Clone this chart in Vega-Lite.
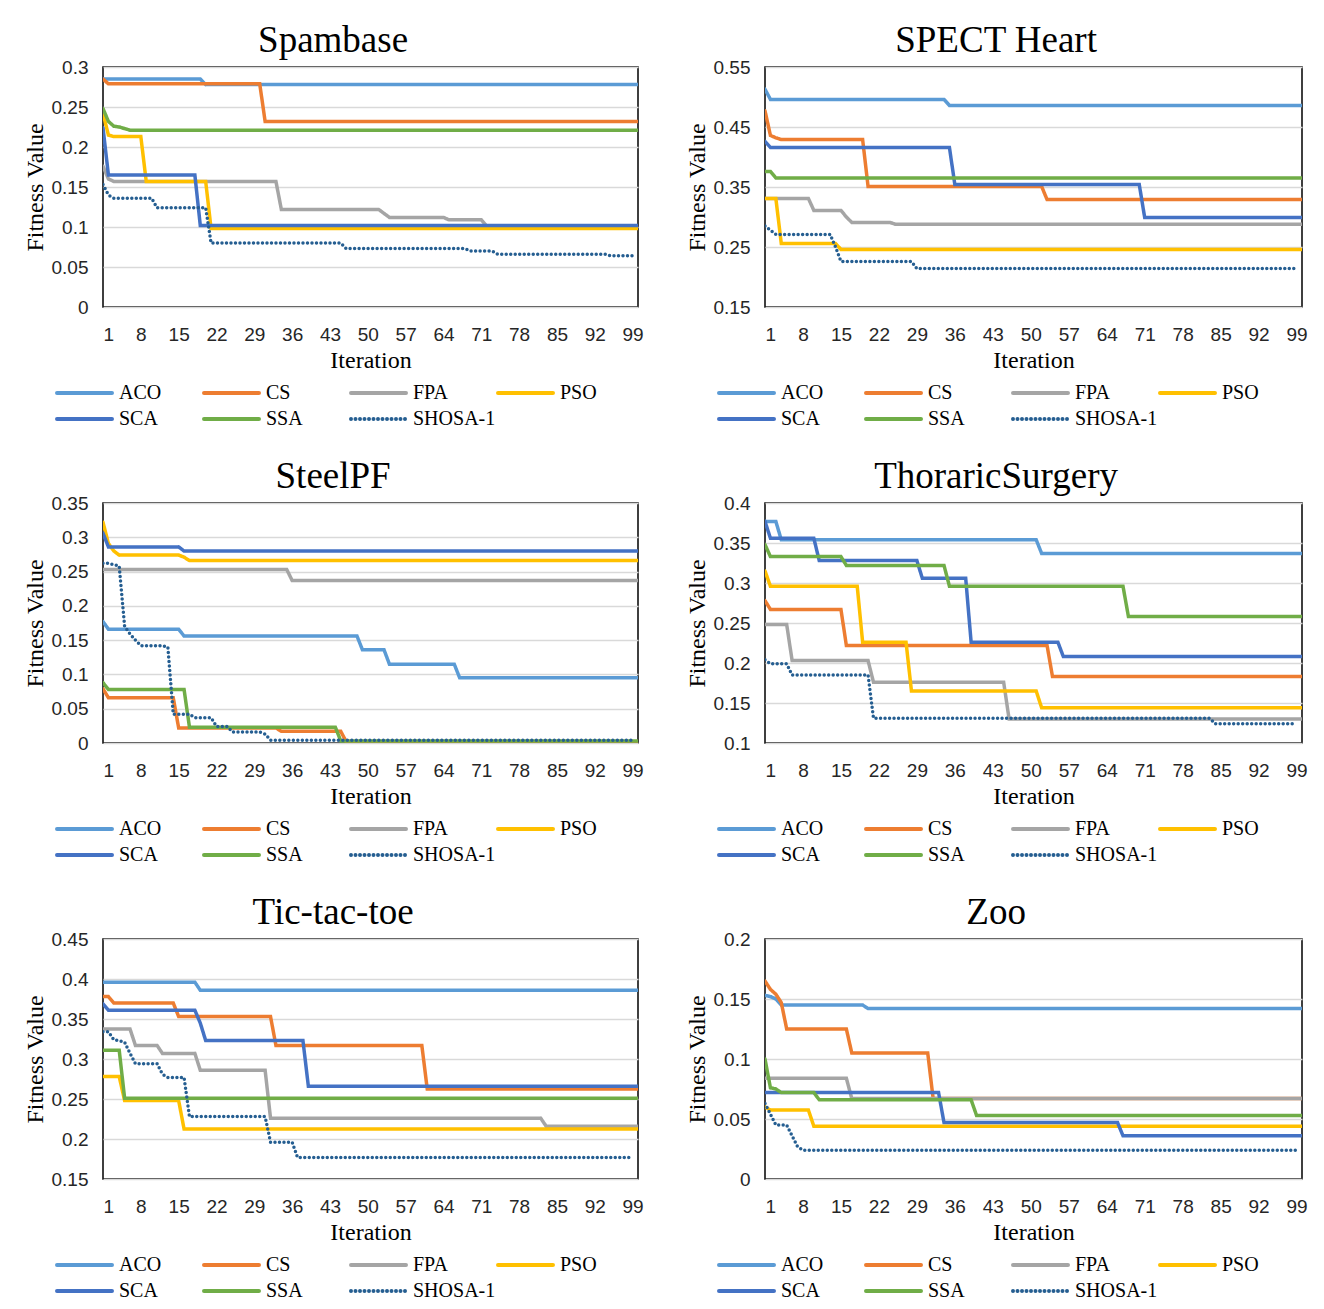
{
"$schema": "https://vega.github.io/schema/vega-lite/v6.json",
"background": "white",
"padding": {"left": 22, "top": 21, "right": 5, "bottom": 5},
"columns": 2,
"spacing": {"row": 196, "column": 127},
"bounds": "flush",
"resolve": {"scale": {"color": "independent", "strokeDash": "independent", "y": "independent", "x": "independent"}},
"datasets": {
"spam": [
{"s":"ACO","i":1,"v":0.285},{"s":"ACO","i":19,"v":0.285},{"s":"ACO","i":20,"v":0.278},{"s":"ACO","i":100,"v":0.278},
{"s":"CS","i":1,"v":0.285},{"s":"CS","i":2,"v":0.279},{"s":"CS","i":30,"v":0.279},{"s":"CS","i":31,"v":0.232},{"s":"CS","i":100,"v":0.232},
{"s":"FPA","i":1,"v":0.176},{"s":"FPA","i":2,"v":0.160},{"s":"FPA","i":3,"v":0.157},{"s":"FPA","i":33,"v":0.157},{"s":"FPA","i":34,"v":0.122},{"s":"FPA","i":52,"v":0.122},{"s":"FPA","i":53,"v":0.117},{"s":"FPA","i":54,"v":0.112},{"s":"FPA","i":64,"v":0.112},{"s":"FPA","i":65,"v":0.109},{"s":"FPA","i":71,"v":0.109},{"s":"FPA","i":72,"v":0.101},{"s":"FPA","i":100,"v":0.101},
{"s":"PSO","i":1,"v":0.242},{"s":"PSO","i":2,"v":0.215},{"s":"PSO","i":3,"v":0.213},{"s":"PSO","i":8,"v":0.213},{"s":"PSO","i":9,"v":0.157},{"s":"PSO","i":20,"v":0.157},{"s":"PSO","i":21,"v":0.098},{"s":"PSO","i":100,"v":0.098},
{"s":"SCA","i":1,"v":0.224},{"s":"SCA","i":2,"v":0.165},{"s":"SCA","i":18,"v":0.165},{"s":"SCA","i":19,"v":0.102},{"s":"SCA","i":100,"v":0.102},
{"s":"SSA","i":1,"v":0.248},{"s":"SSA","i":2,"v":0.232},{"s":"SSA","i":3,"v":0.226},{"s":"SSA","i":4,"v":0.225},{"s":"SSA","i":5,"v":0.223},{"s":"SSA","i":6,"v":0.221},{"s":"SSA","i":100,"v":0.221},
{"s":"SHOSA-1","i":1,"v":0.153},{"s":"SHOSA-1","i":2,"v":0.140},{"s":"SHOSA-1","i":3,"v":0.136},{"s":"SHOSA-1","i":10,"v":0.136},{"s":"SHOSA-1","i":11,"v":0.124},{"s":"SHOSA-1","i":20,"v":0.124},{"s":"SHOSA-1","i":21,"v":0.080},{"s":"SHOSA-1","i":45,"v":0.080},{"s":"SHOSA-1","i":46,"v":0.073},{"s":"SHOSA-1","i":68,"v":0.073},{"s":"SHOSA-1","i":69,"v":0.070},{"s":"SHOSA-1","i":73,"v":0.070},{"s":"SHOSA-1","i":74,"v":0.066},{"s":"SHOSA-1","i":94,"v":0.066},{"s":"SHOSA-1","i":95,"v":0.064},{"s":"SHOSA-1","i":99,"v":0.064}
],
"spect": [
{"s":"ACO","i":1,"v":0.513},{"s":"ACO","i":2,"v":0.496},{"s":"ACO","i":34,"v":0.496},{"s":"ACO","i":35,"v":0.486},{"s":"ACO","i":100,"v":0.486},
{"s":"CS","i":1,"v":0.477},{"s":"CS","i":2,"v":0.436},{"s":"CS","i":3,"v":0.432},{"s":"CS","i":4,"v":0.429},{"s":"CS","i":19,"v":0.429},{"s":"CS","i":20,"v":0.351},{"s":"CS","i":52,"v":0.351},{"s":"CS","i":53,"v":0.329},{"s":"CS","i":100,"v":0.329},
{"s":"FPA","i":1,"v":0.331},{"s":"FPA","i":9,"v":0.331},{"s":"FPA","i":10,"v":0.311},{"s":"FPA","i":15,"v":0.311},{"s":"FPA","i":16,"v":0.300},{"s":"FPA","i":17,"v":0.291},{"s":"FPA","i":24,"v":0.291},{"s":"FPA","i":25,"v":0.288},{"s":"FPA","i":100,"v":0.288},
{"s":"PSO","i":1,"v":0.331},{"s":"PSO","i":3,"v":0.331},{"s":"PSO","i":4,"v":0.256},{"s":"PSO","i":14,"v":0.256},{"s":"PSO","i":15,"v":0.246},{"s":"PSO","i":100,"v":0.246},
{"s":"SCA","i":1,"v":0.426},{"s":"SCA","i":2,"v":0.416},{"s":"SCA","i":35,"v":0.416},{"s":"SCA","i":36,"v":0.354},{"s":"SCA","i":70,"v":0.354},{"s":"SCA","i":71,"v":0.299},{"s":"SCA","i":100,"v":0.299},
{"s":"SSA","i":1,"v":0.376},{"s":"SSA","i":2,"v":0.376},{"s":"SSA","i":3,"v":0.365},{"s":"SSA","i":100,"v":0.365},
{"s":"SHOSA-1","i":1,"v":0.285},{"s":"SHOSA-1","i":2,"v":0.278},{"s":"SHOSA-1","i":3,"v":0.271},{"s":"SHOSA-1","i":13,"v":0.271},{"s":"SHOSA-1","i":14,"v":0.250},{"s":"SHOSA-1","i":15,"v":0.226},{"s":"SHOSA-1","i":28,"v":0.226},{"s":"SHOSA-1","i":29,"v":0.214},{"s":"SHOSA-1","i":99,"v":0.214}
],
"steel": [
{"s":"ACO","i":1,"v":0.177},{"s":"ACO","i":2,"v":0.166},{"s":"ACO","i":15,"v":0.166},{"s":"ACO","i":16,"v":0.156},{"s":"ACO","i":48,"v":0.156},{"s":"ACO","i":49,"v":0.136},{"s":"ACO","i":53,"v":0.136},{"s":"ACO","i":54,"v":0.115},{"s":"ACO","i":66,"v":0.115},{"s":"ACO","i":67,"v":0.095},{"s":"ACO","i":100,"v":0.095},
{"s":"CS","i":1,"v":0.079},{"s":"CS","i":2,"v":0.066},{"s":"CS","i":14,"v":0.066},{"s":"CS","i":15,"v":0.022},{"s":"CS","i":33,"v":0.022},{"s":"CS","i":34,"v":0.017},{"s":"CS","i":45,"v":0.017},{"s":"CS","i":46,"v":0.002},{"s":"CS","i":100,"v":0.002},
{"s":"FPA","i":1,"v":0.253},{"s":"FPA","i":35,"v":0.253},{"s":"FPA","i":36,"v":0.237},{"s":"FPA","i":100,"v":0.237},
{"s":"PSO","i":1,"v":0.322},{"s":"PSO","i":2,"v":0.291},{"s":"PSO","i":3,"v":0.280},{"s":"PSO","i":4,"v":0.274},{"s":"PSO","i":15,"v":0.274},{"s":"PSO","i":16,"v":0.271},{"s":"PSO","i":17,"v":0.266},{"s":"PSO","i":100,"v":0.266},
{"s":"SCA","i":1,"v":0.306},{"s":"SCA","i":2,"v":0.286},{"s":"SCA","i":15,"v":0.286},{"s":"SCA","i":16,"v":0.280},{"s":"SCA","i":100,"v":0.280},
{"s":"SSA","i":1,"v":0.088},{"s":"SSA","i":2,"v":0.078},{"s":"SSA","i":16,"v":0.078},{"s":"SSA","i":17,"v":0.023},{"s":"SSA","i":44,"v":0.023},{"s":"SSA","i":45,"v":0.003},{"s":"SSA","i":100,"v":0.003},
{"s":"SHOSA-1","i":1,"v":0.262},{"s":"SHOSA-1","i":2,"v":0.262},{"s":"SHOSA-1","i":3,"v":0.260},{"s":"SHOSA-1","i":4,"v":0.258},{"s":"SHOSA-1","i":5,"v":0.170},{"s":"SHOSA-1","i":6,"v":0.159},{"s":"SHOSA-1","i":7,"v":0.150},{"s":"SHOSA-1","i":8,"v":0.142},{"s":"SHOSA-1","i":12,"v":0.142},{"s":"SHOSA-1","i":13,"v":0.140},{"s":"SHOSA-1","i":14,"v":0.042},{"s":"SHOSA-1","i":17,"v":0.042},{"s":"SHOSA-1","i":18,"v":0.037},{"s":"SHOSA-1","i":21,"v":0.037},{"s":"SHOSA-1","i":22,"v":0.024},{"s":"SHOSA-1","i":24,"v":0.024},{"s":"SHOSA-1","i":25,"v":0.016},{"s":"SHOSA-1","i":30,"v":0.016},{"s":"SHOSA-1","i":31,"v":0.013},{"s":"SHOSA-1","i":32,"v":0.004},{"s":"SHOSA-1","i":99,"v":0.004}
],
"thor": [
{"s":"ACO","i":1,"v":0.377},{"s":"ACO","i":3,"v":0.377},{"s":"ACO","i":4,"v":0.354},{"s":"ACO","i":51,"v":0.354},{"s":"ACO","i":52,"v":0.337},{"s":"ACO","i":100,"v":0.337},
{"s":"CS","i":1,"v":0.278},{"s":"CS","i":2,"v":0.267},{"s":"CS","i":15,"v":0.267},{"s":"CS","i":16,"v":0.222},{"s":"CS","i":53,"v":0.222},{"s":"CS","i":54,"v":0.183},{"s":"CS","i":100,"v":0.183},
{"s":"FPA","i":1,"v":0.248},{"s":"FPA","i":5,"v":0.248},{"s":"FPA","i":6,"v":0.203},{"s":"FPA","i":20,"v":0.203},{"s":"FPA","i":21,"v":0.176},{"s":"FPA","i":45,"v":0.176},{"s":"FPA","i":46,"v":0.130},{"s":"FPA","i":100,"v":0.130},
{"s":"PSO","i":1,"v":0.315},{"s":"PSO","i":2,"v":0.296},{"s":"PSO","i":18,"v":0.296},{"s":"PSO","i":19,"v":0.226},{"s":"PSO","i":27,"v":0.226},{"s":"PSO","i":28,"v":0.165},{"s":"PSO","i":51,"v":0.165},{"s":"PSO","i":52,"v":0.144},{"s":"PSO","i":100,"v":0.144},
{"s":"SCA","i":1,"v":0.377},{"s":"SCA","i":2,"v":0.356},{"s":"SCA","i":10,"v":0.356},{"s":"SCA","i":11,"v":0.328},{"s":"SCA","i":29,"v":0.328},{"s":"SCA","i":30,"v":0.306},{"s":"SCA","i":38,"v":0.306},{"s":"SCA","i":39,"v":0.226},{"s":"SCA","i":55,"v":0.226},{"s":"SCA","i":56,"v":0.208},{"s":"SCA","i":100,"v":0.208},
{"s":"SSA","i":1,"v":0.348},{"s":"SSA","i":2,"v":0.333},{"s":"SSA","i":15,"v":0.333},{"s":"SSA","i":16,"v":0.322},{"s":"SSA","i":34,"v":0.322},{"s":"SSA","i":35,"v":0.296},{"s":"SSA","i":67,"v":0.296},{"s":"SSA","i":68,"v":0.258},{"s":"SSA","i":100,"v":0.258},
{"s":"SHOSA-1","i":1,"v":0.204},{"s":"SHOSA-1","i":2,"v":0.199},{"s":"SHOSA-1","i":5,"v":0.199},{"s":"SHOSA-1","i":6,"v":0.185},{"s":"SHOSA-1","i":20,"v":0.185},{"s":"SHOSA-1","i":21,"v":0.131},{"s":"SHOSA-1","i":83,"v":0.131},{"s":"SHOSA-1","i":84,"v":0.124},{"s":"SHOSA-1","i":99,"v":0.124}
],
"tic": [
{"s":"ACO","i":1,"v":0.396},{"s":"ACO","i":18,"v":0.396},{"s":"ACO","i":19,"v":0.386},{"s":"ACO","i":100,"v":0.386},
{"s":"CS","i":1,"v":0.378},{"s":"CS","i":2,"v":0.378},{"s":"CS","i":3,"v":0.370},{"s":"CS","i":14,"v":0.370},{"s":"CS","i":15,"v":0.353},{"s":"CS","i":32,"v":0.353},{"s":"CS","i":33,"v":0.317},{"s":"CS","i":60,"v":0.317},{"s":"CS","i":61,"v":0.2625},{"s":"CS","i":100,"v":0.2625},
{"s":"FPA","i":1,"v":0.3375},{"s":"FPA","i":6,"v":0.3375},{"s":"FPA","i":7,"v":0.317},{"s":"FPA","i":11,"v":0.317},{"s":"FPA","i":12,"v":0.307},{"s":"FPA","i":18,"v":0.307},{"s":"FPA","i":19,"v":0.286},{"s":"FPA","i":31,"v":0.286},{"s":"FPA","i":32,"v":0.226},{"s":"FPA","i":82,"v":0.226},{"s":"FPA","i":83,"v":0.216},{"s":"FPA","i":100,"v":0.216},
{"s":"PSO","i":1,"v":0.278},{"s":"PSO","i":4,"v":0.278},{"s":"PSO","i":5,"v":0.248},{"s":"PSO","i":15,"v":0.248},{"s":"PSO","i":16,"v":0.2125},{"s":"PSO","i":100,"v":0.2125},
{"s":"SCA","i":1,"v":0.369},{"s":"SCA","i":2,"v":0.361},{"s":"SCA","i":18,"v":0.361},{"s":"SCA","i":19,"v":0.345},{"s":"SCA","i":20,"v":0.323},{"s":"SCA","i":38,"v":0.323},{"s":"SCA","i":39,"v":0.266},{"s":"SCA","i":100,"v":0.266},
{"s":"SSA","i":1,"v":0.311},{"s":"SSA","i":4,"v":0.311},{"s":"SSA","i":5,"v":0.251},{"s":"SSA","i":100,"v":0.251},
{"s":"SHOSA-1","i":1,"v":0.334},{"s":"SHOSA-1","i":2,"v":0.334},{"s":"SHOSA-1","i":3,"v":0.324},{"s":"SHOSA-1","i":4,"v":0.323},{"s":"SHOSA-1","i":5,"v":0.321},{"s":"SHOSA-1","i":6,"v":0.307},{"s":"SHOSA-1","i":7,"v":0.294},{"s":"SHOSA-1","i":11,"v":0.294},{"s":"SHOSA-1","i":12,"v":0.281},{"s":"SHOSA-1","i":13,"v":0.277},{"s":"SHOSA-1","i":16,"v":0.277},{"s":"SHOSA-1","i":17,"v":0.228},{"s":"SHOSA-1","i":31,"v":0.228},{"s":"SHOSA-1","i":32,"v":0.196},{"s":"SHOSA-1","i":36,"v":0.196},{"s":"SHOSA-1","i":37,"v":0.177},{"s":"SHOSA-1","i":99,"v":0.177}
],
"zoo": [
{"s":"ACO","i":1,"v":0.153},{"s":"ACO","i":2,"v":0.152},{"s":"ACO","i":3,"v":0.150},{"s":"ACO","i":4,"v":0.145},{"s":"ACO","i":19,"v":0.145},{"s":"ACO","i":20,"v":0.142},{"s":"ACO","i":100,"v":0.142},
{"s":"CS","i":1,"v":0.165},{"s":"CS","i":2,"v":0.158},{"s":"CS","i":3,"v":0.154},{"s":"CS","i":4,"v":0.147},{"s":"CS","i":5,"v":0.125},{"s":"CS","i":16,"v":0.125},{"s":"CS","i":17,"v":0.105},{"s":"CS","i":31,"v":0.105},{"s":"CS","i":32,"v":0.067},{"s":"CS","i":100,"v":0.067},
{"s":"FPA","i":1,"v":0.084},{"s":"FPA","i":16,"v":0.084},{"s":"FPA","i":17,"v":0.067},{"s":"FPA","i":100,"v":0.067},
{"s":"PSO","i":1,"v":0.060},{"s":"PSO","i":2,"v":0.0575},{"s":"PSO","i":9,"v":0.0575},{"s":"PSO","i":10,"v":0.044},{"s":"PSO","i":100,"v":0.044},
{"s":"SCA","i":1,"v":0.072},{"s":"SCA","i":33,"v":0.072},{"s":"SCA","i":34,"v":0.047},{"s":"SCA","i":66,"v":0.047},{"s":"SCA","i":67,"v":0.036},{"s":"SCA","i":100,"v":0.036},
{"s":"SSA","i":1,"v":0.100},{"s":"SSA","i":2,"v":0.076},{"s":"SSA","i":3,"v":0.075},{"s":"SSA","i":4,"v":0.072},{"s":"SSA","i":10,"v":0.072},{"s":"SSA","i":11,"v":0.066},{"s":"SSA","i":39,"v":0.066},{"s":"SSA","i":40,"v":0.053},{"s":"SSA","i":100,"v":0.053},
{"s":"SHOSA-1","i":1,"v":0.063},{"s":"SHOSA-1","i":2,"v":0.054},{"s":"SHOSA-1","i":3,"v":0.045},{"s":"SHOSA-1","i":5,"v":0.045},{"s":"SHOSA-1","i":6,"v":0.036},{"s":"SHOSA-1","i":7,"v":0.027},{"s":"SHOSA-1","i":8,"v":0.024},{"s":"SHOSA-1","i":99,"v":0.024}
]
},
"concat": [
{"title": "Spambase", "width": 535, "height": 240, "data": {"name": "spam"},
 "mark": {"type": "line", "strokeWidth": 3.5, "strokeCap": "round", "clip": true},
 "encoding": {
  "x": {"field": "i", "type": "quantitative", "title": "Iteration", "scale": {"domain": [1, 100]}, "axis": {"values": [1,8,15,22,29,36,43,50,57,64,71,78,85,92,99]}},
  "y": {"field": "v", "type": "quantitative", "title": "Fitness Value", "scale": {"domain": [0, 0.3]}, "axis": {"values": [0,0.05,0.1,0.15,0.2,0.25,0.3], "format": ".2~f"}},
  "color": {"field": "s", "type": "nominal", "scale": {"domain": ["ACO","CS","FPA","PSO","SCA","SSA","SHOSA-1"], "range": ["#5B9BD5","#ED7D31","#A5A5A5","#FFC000","#4472C4","#70AD47","#255E91"]}, "legend": {"title": null, "encode": {"symbols": {"update": {"strokeCap": {"value": "round"}}}}}},
  "strokeDash": {"field": "s", "type": "nominal", "scale": {"domain": ["ACO","CS","FPA","PSO","SCA","SSA","SHOSA-1"], "range": [[1,0],[1,0],[1,0],[1,0],[1,0],[1,0],[0,4.5]]}, "legend": {"title": null, "encode": {"symbols": {"update": {"strokeCap": {"value": "round"}}}}}}
 }},
{"title": "SPECT Heart", "width": 537, "height": 240, "data": {"name": "spect"},
 "mark": {"type": "line", "strokeWidth": 3.5, "strokeCap": "round", "clip": true},
 "encoding": {
  "x": {"field": "i", "type": "quantitative", "title": "Iteration", "scale": {"domain": [1, 100]}, "axis": {"values": [1,8,15,22,29,36,43,50,57,64,71,78,85,92,99]}},
  "y": {"field": "v", "type": "quantitative", "title": "Fitness Value", "scale": {"domain": [0.15, 0.55]}, "axis": {"values": [0.15,0.25,0.35,0.45,0.55], "format": ".2~f"}},
  "color": {"field": "s", "type": "nominal", "scale": {"domain": ["ACO","CS","FPA","PSO","SCA","SSA","SHOSA-1"], "range": ["#5B9BD5","#ED7D31","#A5A5A5","#FFC000","#4472C4","#70AD47","#255E91"]}, "legend": {"title": null, "encode": {"symbols": {"update": {"strokeCap": {"value": "round"}}}}}},
  "strokeDash": {"field": "s", "type": "nominal", "scale": {"domain": ["ACO","CS","FPA","PSO","SCA","SSA","SHOSA-1"], "range": [[1,0],[1,0],[1,0],[1,0],[1,0],[1,0],[0,4.5]]}, "legend": {"title": null, "encode": {"symbols": {"update": {"strokeCap": {"value": "round"}}}}}}
 }},
{"title": "SteelPF", "width": 535, "height": 240, "data": {"name": "steel"},
 "mark": {"type": "line", "strokeWidth": 3.5, "strokeCap": "round", "clip": true},
 "encoding": {
  "x": {"field": "i", "type": "quantitative", "title": "Iteration", "scale": {"domain": [1, 100]}, "axis": {"values": [1,8,15,22,29,36,43,50,57,64,71,78,85,92,99]}},
  "y": {"field": "v", "type": "quantitative", "title": "Fitness Value", "scale": {"domain": [0, 0.35]}, "axis": {"values": [0,0.05,0.1,0.15,0.2,0.25,0.3,0.35], "format": ".2~f"}},
  "color": {"field": "s", "type": "nominal", "scale": {"domain": ["ACO","CS","FPA","PSO","SCA","SSA","SHOSA-1"], "range": ["#5B9BD5","#ED7D31","#A5A5A5","#FFC000","#4472C4","#70AD47","#255E91"]}, "legend": {"title": null, "encode": {"symbols": {"update": {"strokeCap": {"value": "round"}}}}}},
  "strokeDash": {"field": "s", "type": "nominal", "scale": {"domain": ["ACO","CS","FPA","PSO","SCA","SSA","SHOSA-1"], "range": [[1,0],[1,0],[1,0],[1,0],[1,0],[1,0],[0,4.5]]}, "legend": {"title": null, "encode": {"symbols": {"update": {"strokeCap": {"value": "round"}}}}}}
 }},
{"title": "ThoraricSurgery", "width": 537, "height": 240, "data": {"name": "thor"},
 "mark": {"type": "line", "strokeWidth": 3.5, "strokeCap": "round", "clip": true},
 "encoding": {
  "x": {"field": "i", "type": "quantitative", "title": "Iteration", "scale": {"domain": [1, 100]}, "axis": {"values": [1,8,15,22,29,36,43,50,57,64,71,78,85,92,99]}},
  "y": {"field": "v", "type": "quantitative", "title": "Fitness Value", "scale": {"domain": [0.1, 0.4]}, "axis": {"values": [0.1,0.15,0.2,0.25,0.3,0.35,0.4], "format": ".2~f"}},
  "color": {"field": "s", "type": "nominal", "scale": {"domain": ["ACO","CS","FPA","PSO","SCA","SSA","SHOSA-1"], "range": ["#5B9BD5","#ED7D31","#A5A5A5","#FFC000","#4472C4","#70AD47","#255E91"]}, "legend": {"title": null, "encode": {"symbols": {"update": {"strokeCap": {"value": "round"}}}}}},
  "strokeDash": {"field": "s", "type": "nominal", "scale": {"domain": ["ACO","CS","FPA","PSO","SCA","SSA","SHOSA-1"], "range": [[1,0],[1,0],[1,0],[1,0],[1,0],[1,0],[0,4.5]]}, "legend": {"title": null, "encode": {"symbols": {"update": {"strokeCap": {"value": "round"}}}}}}
 }},
{"title": "Tic-tac-toe", "width": 535, "height": 240, "data": {"name": "tic"},
 "mark": {"type": "line", "strokeWidth": 3.5, "strokeCap": "round", "clip": true},
 "encoding": {
  "x": {"field": "i", "type": "quantitative", "title": "Iteration", "scale": {"domain": [1, 100]}, "axis": {"values": [1,8,15,22,29,36,43,50,57,64,71,78,85,92,99]}},
  "y": {"field": "v", "type": "quantitative", "title": "Fitness Value", "scale": {"domain": [0.15, 0.45]}, "axis": {"values": [0.15,0.2,0.25,0.3,0.35,0.4,0.45], "format": ".2~f"}},
  "color": {"field": "s", "type": "nominal", "scale": {"domain": ["ACO","CS","FPA","PSO","SCA","SSA","SHOSA-1"], "range": ["#5B9BD5","#ED7D31","#A5A5A5","#FFC000","#4472C4","#70AD47","#255E91"]}, "legend": {"title": null, "encode": {"symbols": {"update": {"strokeCap": {"value": "round"}}}}}},
  "strokeDash": {"field": "s", "type": "nominal", "scale": {"domain": ["ACO","CS","FPA","PSO","SCA","SSA","SHOSA-1"], "range": [[1,0],[1,0],[1,0],[1,0],[1,0],[1,0],[0,4.5]]}, "legend": {"title": null, "encode": {"symbols": {"update": {"strokeCap": {"value": "round"}}}}}}
 }},
{"title": "Zoo", "width": 537, "height": 240, "data": {"name": "zoo"},
 "mark": {"type": "line", "strokeWidth": 3.5, "strokeCap": "round", "clip": true},
 "encoding": {
  "x": {"field": "i", "type": "quantitative", "title": "Iteration", "scale": {"domain": [1, 100]}, "axis": {"values": [1,8,15,22,29,36,43,50,57,64,71,78,85,92,99]}},
  "y": {"field": "v", "type": "quantitative", "title": "Fitness Value", "scale": {"domain": [0, 0.2]}, "axis": {"values": [0,0.05,0.1,0.15,0.2], "format": ".2~f"}},
  "color": {"field": "s", "type": "nominal", "scale": {"domain": ["ACO","CS","FPA","PSO","SCA","SSA","SHOSA-1"], "range": ["#5B9BD5","#ED7D31","#A5A5A5","#FFC000","#4472C4","#70AD47","#255E91"]}, "legend": {"title": null, "encode": {"symbols": {"update": {"strokeCap": {"value": "round"}}}}}},
  "strokeDash": {"field": "s", "type": "nominal", "scale": {"domain": ["ACO","CS","FPA","PSO","SCA","SSA","SHOSA-1"], "range": [[1,0],[1,0],[1,0],[1,0],[1,0],[1,0],[0,4.5]]}, "legend": {"title": null, "encode": {"symbols": {"update": {"strokeCap": {"value": "round"}}}}}}
 }}
],
"config": {
 "view": {"stroke": "black", "strokeWidth": 1.5},
 "axis": {"ticks": false, "domain": false, "labelFont": "Liberation Sans", "labelFontSize": 19, "labelColor": "#262626", "titleFont": "Liberation Serif", "titleFontSize": 24, "titleFontWeight": "normal", "titleColor": "black", "gridColor": "#d9d9d9", "gridWidth": 1.5},
 "axisX": {"grid": false, "labelPadding": 18, "titlePadding": 4},
 "axisY": {"labelPadding": 15, "titlePadding": 4},
 "title": {"font": "Liberation Serif", "fontSize": 37, "fontWeight": "normal", "color": "black", "offset": -2, "frame": "bounds"},
 "legend": {"orient": "none", "legendX": -48, "legendY": 316, "padding": 0, "clipHeight": 20, "direction": "horizontal", "columns": 4, "symbolType": "stroke", "symbolSize": 3025, "symbolStrokeWidth": 4, "labelFont": "Liberation Serif", "labelFontSize": 20, "labelColor": "black", "labelOffset": 5, "columnPadding": -5, "rowPadding": 6, "gridAlign": "all", "labelLimit": 200}
}
}
